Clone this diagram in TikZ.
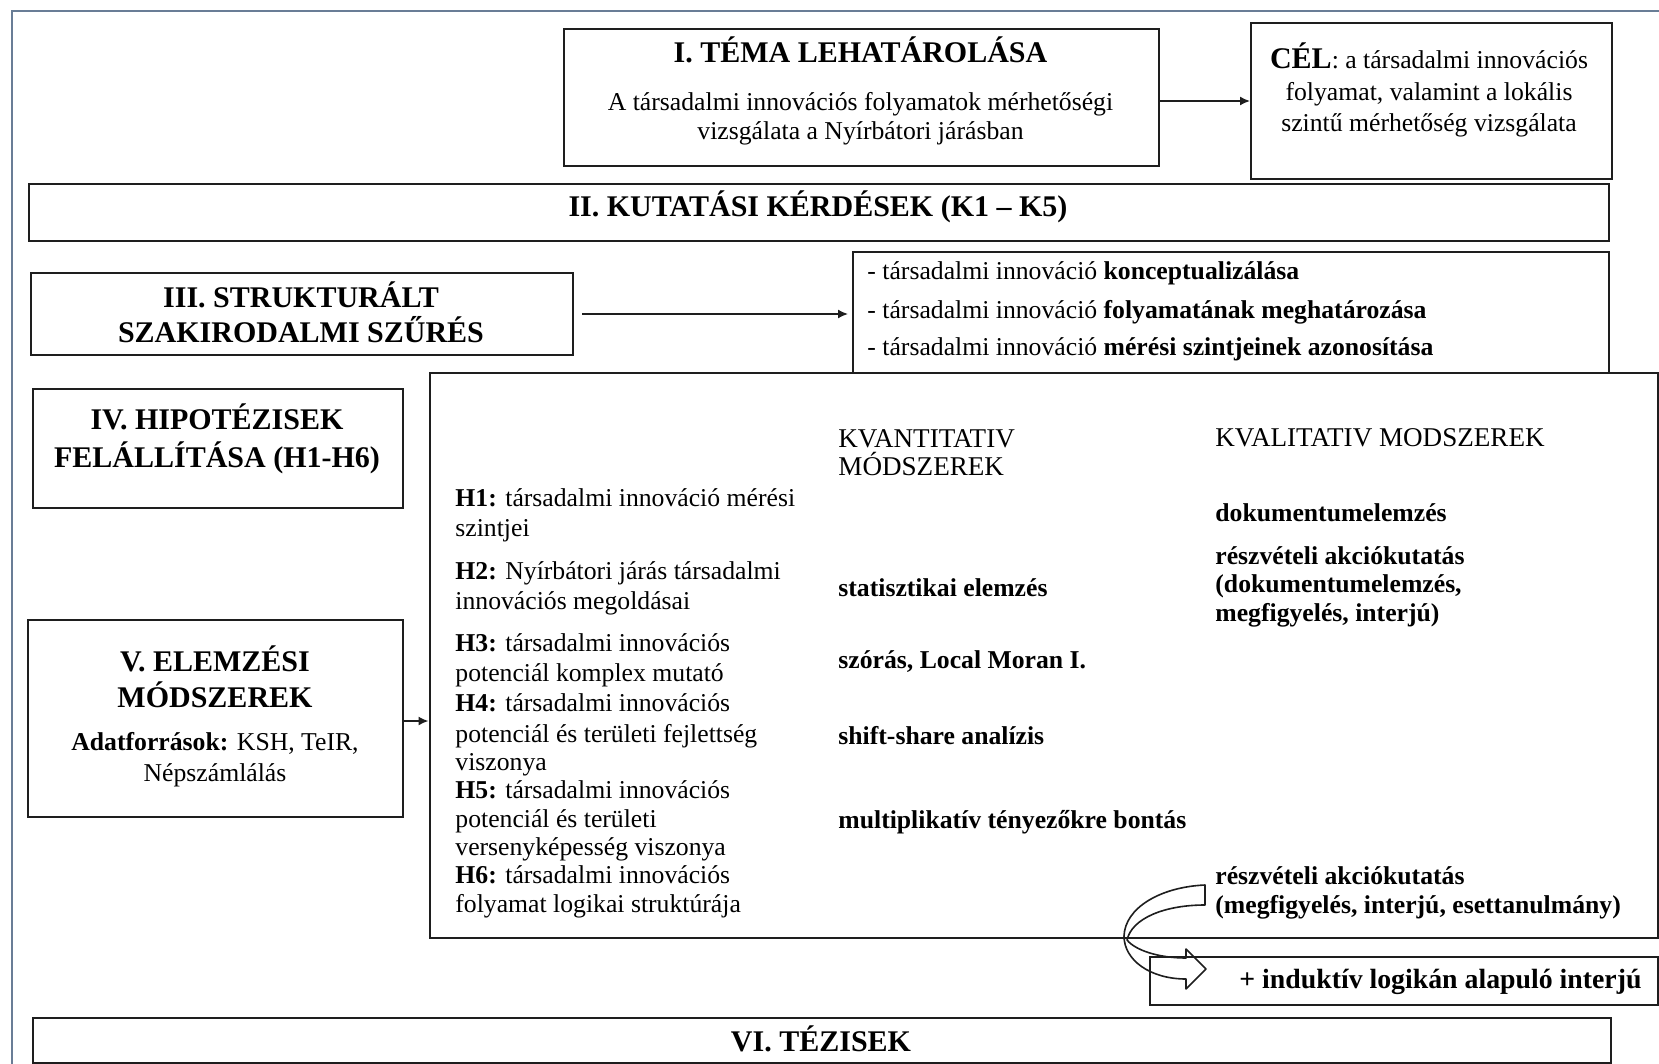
\documentclass[tikz,border=0pt]{standalone}
\usepackage{fontspec}
\setmainfont{Liberation Serif}
\usetikzlibrary{arrows.meta,calc}
\newcommand\fsBody{\fontsize{12.85pt}{15pt}\selectfont}
\newcommand\fsTitle{\fontsize{15pt}{18pt}\selectfont\bfseries}
\newcommand\fsHead{\fontsize{13.55pt}{16pt}\selectfont}
\newcommand\fsInd{\fontsize{13.9pt}{16pt}\selectfont\bfseries}
\definecolor{framec}{RGB}{105,125,150}
\definecolor{linec}{RGB}{30,30,30}
\begin{document}
\begin{tikzpicture}[x=0.5pt,y=-0.5pt,
  box/.style={draw=linec, line width=1pt, inner sep=0pt, anchor=north west},
  tx/.style={inner sep=0pt, anchor=base, font=\fsBody},
  txl/.style={inner sep=0pt, anchor=base west, font=\fsBody},
  txb/.style={inner sep=0pt, anchor=base west, font=\fsBody\bfseries},
  hd/.style={inner sep=0pt, anchor=base west, font=\fsHead},
  ttl/.style={inner sep=0pt, anchor=base, font=\fsTitle},
  arr/.style={-{Latex[length=5pt,width=4.5pt]}, line width=0.8pt, draw=linec},
  curv/.style={line width=0.8pt, line join=round, draw=linec},
  ]
\useasboundingbox (0,0) rectangle (1659,1064);
\fill[white] (0,0) rectangle (1659,1064);
\draw[framec, line width=1pt] (1659,11) -- (11.7,11) -- (11.7,1064);

% boxes
\node[box, minimum width=297.5pt, minimum height=68.5pt] (bI) at (563,28) {};
\node[box, minimum width=180.5pt, minimum height=78pt] (bCel) at (1250,22) {};
\node[box, minimum width=790.25pt, minimum height=28.5pt] (bII) at (27.5,183) {};
\node[box, minimum width=271pt, minimum height=41pt] (bIII) at (30,272) {};
\node[box, minimum width=378pt, minimum height=60.25pt] (bBul) at (852,251) {};
\node[box, minimum width=614.25pt, minimum height=282.5pt] (bBig) at (428.5,371.5) {};
\node[box, minimum width=185pt, minimum height=59.5pt] (bIV) at (32,388) {};
\node[box, minimum width=187.5pt, minimum height=98.5pt] (bV) at (27,619) {};
\node[box, minimum width=254pt, minimum height=24pt] (bInd) at (1149,956) {};
\node[box, minimum width=789pt, minimum height=22.5pt] (bVI) at (32,1017) {};

% I
\node[ttl] (tI1) at (860.5,63) {I. TÉMA LEHATÁROLÁSA};
\node[tx] (tI2) at (860.5,111) {A társadalmi innovációs folyamatok mérhetőségi};
\node[tx] (tI3) at (860.5,140) {vizsgálata a Nyírbátori járásban};
% CEL
\node[tx] (tC1) at (1429,69) {{\fsTitle CÉL}: a társadalmi innovációs};
\node[tx] (tC2) at (1429,101) {folyamat, valamint a lokális};
\node[tx] (tC3) at (1429,132) {szintű mérhetőség vizsgálata};
% II
\node[ttl] (tII) at (818,217) {II. KUTATÁSI KÉRDÉSEK (K1 – K5)};
% III
\node[ttl] (tIII1) at (301,307) {III. STRUKTURÁLT};
\node[ttl] (tIII2) at (301,343) {SZAKIRODALMI SZŰRÉS};
% bullets
\node[txl] (tB1) at (867,279) {- társadalmi innováció \textbf{konceptualizálása}};
\node[txl] (tB2) at (867,318) {- társadalmi innováció \textbf{folyamatának meghatározása}};
\node[txl] (tB3) at (867,355) {- társadalmi innováció \textbf{mérési szintjeinek azonosítása}};
% IV
\node[ttl] (tIV1) at (217,429) {IV. HIPOTÉZISEK};
\node[ttl] (tIV2) at (217,467) {FELÁLLÍTÁSA (H1-H6)};
% V
\node[ttl] (tV1) at (215,671) {V. ELEMZÉSI};
\node[ttl] (tV2) at (215,707) {MÓDSZEREK};
\node[tx] (tV3) at (215,750) {\textbf{Adatforrások:} KSH, TeIR,};
\node[tx] (tV4) at (215,781) {Népszámlálás};
% hypotheses
\node[txl] (h1a) at (455,506) {\textbf{H1:} társadalmi innováció mérési};
\node[txl] (h1b) at (455,536) {szintjei};
\node[txl] (h2a) at (455,579) {\textbf{H2:} Nyírbátori járás társadalmi};
\node[txl] (h2b) at (455,609) {innovációs megoldásai};
\node[txl] (h3a) at (455,651) {\textbf{H3:} társadalmi innovációs};
\node[txl] (h3b) at (455,681) {potenciál komplex mutató};
\node[txl] (h4a) at (455,711) {\textbf{H4:} társadalmi innovációs};
\node[txl] (h4b) at (455,742) {potenciál és területi fejlettség};
\node[txl] (h4c) at (455,770) {viszonya};
\node[txl] (h5a) at (455,798) {\textbf{H5:} társadalmi innovációs};
\node[txl] (h5b) at (455,827) {potenciál és területi};
\node[txl] (h5c) at (455,855) {versenyképesség viszonya};
\node[txl] (h6a) at (455,883) {\textbf{H6:} társadalmi innovációs};
\node[txl] (h6b) at (455,912) {folyamat logikai struktúrája};
% quantitative
\node[hd] (q0a) at (838,447) {KVANTITATIV};
\node[hd] (q0b) at (838,475) {MÓDSZEREK};
\node[txb] (q1) at (838,596) {statisztikai elemzés};
\node[txb] (q2) at (838,668) {szórás, Local Moran I.};
\node[txb] (q3) at (838,744) {shift-share analízis};
\node[txb] (q4) at (838,828) {multiplikatív tényezőkre bontás};
% qualitative
\node[hd] (k0) at (1215,446) {KVALITATIV MODSZEREK};
\node[txb] (k1) at (1215,521) {dokumentumelemzés};
\node[txb] (k2a) at (1215,564) {részvételi akciókutatás};
\node[txb] (k2b) at (1215,592) {(dokumentumelemzés,};
\node[txb] (k2c) at (1215,621) {megfigyelés, interjú)};
\node[txb] (k3a) at (1215,884) {részvételi akciókutatás};
\node[txb] (k3b) at (1215,913) {(megfigyelés, interjú, esettanulmány)};
% inductive
\node[inner sep=0pt, anchor=base west, font=\fsInd] (tInd) at (1239,988) {+ induktív logikán alapuló interjú};
% VI
\node[ttl] (tVI) at (821,1051) {VI. TÉZISEK};

% connectors
\draw[arr] (bI.east |- bCel.west) -- (bCel.west);
\draw[arr, shorten >=2pt] ($(bIII.east)+(8,0)$) -- (bIII.east -| bBul.west);
\draw[arr] (bV.east |- 0,721) -- (bBig.west |- 0,721);

% curved block arrow
\draw[curv]
  (1205,885) .. controls (1160,887) and (1125,908) .. (1124,936)
  .. controls (1124,960) and (1150,979) .. (1186,979)
  -- (1186,989) -- (1206,969) -- (1186,949) -- (1186,958)
  .. controls (1158,958) and (1135,950) .. (1127,940)
  .. controls (1132,918) and (1165,905) .. (1205,905) -- cycle;
\end{tikzpicture}
\end{document}
